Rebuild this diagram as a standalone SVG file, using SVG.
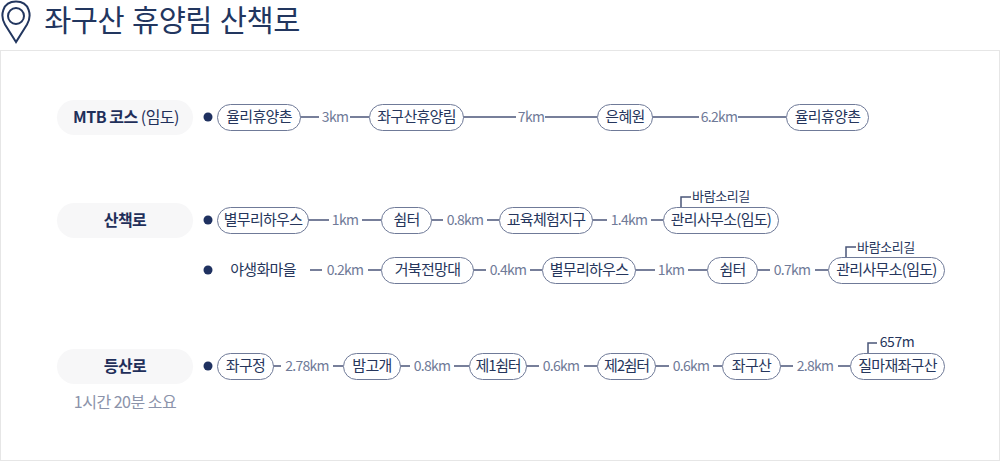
<svg xmlns="http://www.w3.org/2000/svg" width="1000" height="461" viewBox="0 0 1000 461">
<style>
text{font-family:"Noto Sans CJK KR","Noto Sans",sans-serif;text-anchor:middle}
.n rect{fill:#fff;stroke:#6f7a98;stroke-width:1}
.n text{font-size:15px;fill:#26365c;letter-spacing:-.7px}
.k{font-size:14px;fill:#6f7a98;letter-spacing:-.7px}
.h rect{fill:#f7f7f8}
.h text{font-size:16px;font-weight:700;fill:#1f2f5a;letter-spacing:-.5px}
.c line,.c path{stroke:#4a5578;stroke-width:1.500;fill:none}
.d{fill:#1f3160}
.s{font-size:13px;fill:#26365c;letter-spacing:-.4px}
</style>
<rect x="0.5" y="50.5" width="999" height="410" fill="#fff" stroke="#e6e6e6"/>
<g id="title">
<path d="M16 42 L5 24.500 C0 16 2 1.500 16 1.500 C30 1.500 32 16 27 24.500 Z" fill="none" stroke="#22365f" stroke-width="2"/>
<circle cx="16" cy="16" r="8" fill="none" stroke="#22365f" stroke-width="2"/>
<text x="172" y="31" font-size="29.500" fill="#22365f" style="font-family:'Liberation Sans','Noto Sans CJK KR',sans-serif;letter-spacing:-.45px">좌구산 휴양림 산책로</text>
</g>
<g class="c" id="connectors">
<line x1="300" y1="117" x2="319" y2="117"/><line x1="350" y1="117" x2="369" y2="117"/>
<line x1="463" y1="117" x2="516" y2="117"/><line x1="545" y1="117" x2="597" y2="117"/>
<line x1="652" y1="117" x2="699" y2="117"/><line x1="738" y1="117" x2="786" y2="117"/>
<line x1="308" y1="220" x2="329" y2="220"/><line x1="362" y1="220" x2="381" y2="220"/>
<line x1="431" y1="220" x2="443" y2="220"/><line x1="487" y1="220" x2="499" y2="220"/>
<line x1="592" y1="220" x2="607" y2="220"/><line x1="651" y1="220" x2="663" y2="220"/>
<line x1="310" y1="270" x2="322" y2="270"/><line x1="368" y1="270" x2="381" y2="270"/>
<line x1="473" y1="270" x2="486" y2="270"/><line x1="530" y1="270" x2="542" y2="270"/>
<line x1="635" y1="270" x2="655" y2="270"/><line x1="688" y1="270" x2="707" y2="270"/>
<line x1="757" y1="270" x2="770" y2="270"/><line x1="815" y1="270" x2="828" y2="270"/>
<line x1="273" y1="366" x2="281" y2="366"/><line x1="333" y1="366" x2="343" y2="366"/>
<line x1="400" y1="366" x2="410" y2="366"/><line x1="454" y1="366" x2="469" y2="366"/>
<line x1="526" y1="366" x2="539" y2="366"/><line x1="584" y1="366" x2="597" y2="366"/>
<line x1="655" y1="366" x2="669" y2="366"/><line x1="713" y1="366" x2="722" y2="366"/>
<line x1="780" y1="366" x2="793" y2="366"/><line x1="838" y1="366" x2="850" y2="366"/>
<path d="M681 207V197H691"/><path d="M846 257V247H856"/><path d="M868 353V343H877"/>
</g>
<g class="h" id="h1"><rect x="57" y="100" width="136" height="35" rx="17.500"/><text x="126" y="123">MTB 코스 <tspan font-weight="400">(임도)</tspan></text></g>
<g class="h" id="h2"><rect x="57" y="203" width="136" height="35" rx="17.500"/><text x="125" y="226">산책로</text></g>
<g class="h" id="h3"><rect x="57" y="349" width="136" height="35" rx="17.500"/><text x="125" y="372">등산로</text></g>
<text x="125" y="408" font-size="16" fill="#8b93aa" style="letter-spacing:-.5px">1시간 20분 소요</text>
<circle class="d" cx="208" cy="117" r="4.500"/><circle class="d" cx="208" cy="220" r="4.500"/><circle class="d" cx="208" cy="270" r="4.500"/><circle class="d" cx="208" cy="366" r="4.500"/>
<g class="n" id="a1"><rect x="217.500" y="104.500" width="83" height="26" rx="13"/><text x="259" y="122">율리휴양촌</text></g>
<g class="n" id="a2"><rect x="369.500" y="104.500" width="94" height="26" rx="13"/><text x="416.500" y="122">좌구산휴양림</text></g>
<g class="n" id="a3"><rect x="597.500" y="104.500" width="55" height="26" rx="13"/><text x="625" y="122">은혜원</text></g>
<g class="n" id="a4"><rect x="786.500" y="104.500" width="82" height="26" rx="13"/><text x="827.500" y="122">율리휴양촌</text></g>
<g class="n" id="b1"><rect x="217.500" y="207.500" width="91" height="26" rx="13"/><text x="263" y="225">별무리하우스</text></g>
<g class="n" id="b2"><rect x="381.500" y="207.500" width="50" height="26" rx="13"/><text x="406.500" y="225">쉼터</text></g>
<g class="n" id="b3"><rect x="499.500" y="207.500" width="93" height="26" rx="13"/><text x="546" y="225">교육체험지구</text></g>
<g class="n" id="b4"><rect x="663.500" y="207.500" width="115" height="26" rx="13"/><text x="721" y="225">관리사무소(임도)</text></g>
<g class="n" id="c0"><text x="263" y="275">야생화마을</text></g>
<g class="n" id="c1"><rect x="381.500" y="257.500" width="92" height="26" rx="13"/><text x="427.500" y="275">거북전망대</text></g>
<g class="n" id="c2"><rect x="542.500" y="257.500" width="93" height="26" rx="13"/><text x="589" y="275">별무리하우스</text></g>
<g class="n" id="c3"><rect x="707.500" y="257.500" width="50" height="26" rx="13"/><text x="732.500" y="275">쉼터</text></g>
<g class="n" id="c4"><rect x="828.500" y="257.500" width="116" height="26" rx="13"/><text x="886.500" y="275">관리사무소(임도)</text></g>
<g class="n" id="d1"><rect x="217.500" y="353.500" width="56" height="26" rx="13"/><text x="245.500" y="371">좌구정</text></g>
<g class="n" id="d2"><rect x="343.500" y="353.500" width="57" height="26" rx="13"/><text x="372" y="371">밤고개</text></g>
<g class="n" id="d3"><rect x="469.500" y="353.500" width="57" height="26" rx="13"/><text x="498" y="371" style="letter-spacing:-1.200px">제1쉼터</text></g>
<g class="n" id="d4"><rect x="597.500" y="353.500" width="58" height="26" rx="13"/><text x="626.500" y="371" style="letter-spacing:-1.200px">제2쉼터</text></g>
<g class="n" id="d5"><rect x="722.500" y="353.500" width="58" height="26" rx="13"/><text x="751.500" y="371">좌구산</text></g>
<g class="n" id="d6"><rect x="850.500" y="353.500" width="94" height="26" rx="13"/><text x="897.500" y="371">질마재좌구산</text></g>
<g id="km">
<text class="k" x="335" y="122">3km</text><text class="k" x="531" y="122">7km</text><text class="k" x="719" y="122">6.2km</text>
<text class="k" x="345" y="225">1km</text><text class="k" x="465" y="225">0.8km</text><text class="k" x="629" y="225">1.4km</text>
<text class="k" x="345" y="275">0.2km</text><text class="k" x="508" y="275">0.4km</text><text class="k" x="671" y="275">1km</text><text class="k" x="792" y="275">0.7km</text>
<text class="k" x="307" y="371">2.78km</text><text class="k" x="432" y="371">0.8km</text><text class="k" x="561" y="371">0.6km</text><text class="k" x="691" y="371">0.6km</text><text class="k" x="815" y="371">2.8km</text>
</g>
<text class="s" x="721" y="201">바람소리길</text><text class="s" x="886" y="252">바람소리길</text><text class="s" x="897" y="347" style="font-size:14px">657m</text>
</svg>
